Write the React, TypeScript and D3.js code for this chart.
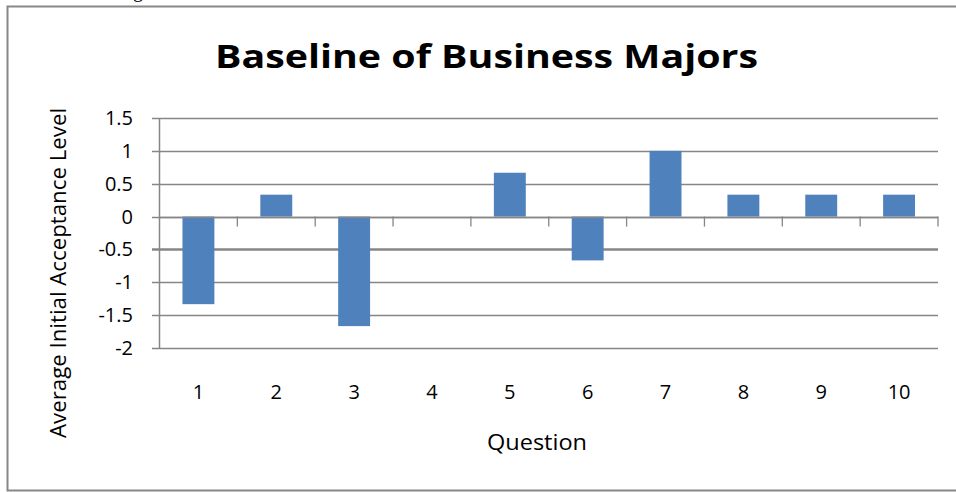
import React from "react";
import * as d3 from "d3";

const categories = ["1", "2", "3", "4", "5", "6", "7", "8", "9", "10"];
const values = [-1.333, 0.333, -1.667, 0, 0.667, -0.667, 1.0, 0.333, 0.333, 0.333];
const yTicks = [1.5, 1, 0.5, 0, -0.5, -1, -1.5, -2];
const title = "Baseline of Business Majors";
const xTitle = "Question";
const yTitle = "Average Initial Acceptance Level";

const W = 956;
const H = 492;
const left = 159.5;
const right = 938;
const top = 118;
const bottom = 348;
const FONT = "'Open Sans', 'Liberation Sans', sans-serif";
const GRID = "#868686";

export default function App() {
  const x = d3.scaleBand<string>().domain(categories).range([left, right]).paddingInner(0.59).paddingOuter(0.295);
  const xb = d3.scaleBand<string>().domain(categories).range([left, right]);
  const y = d3.scaleLinear().domain([-2, 1.5]).range([bottom, top]);
  const fmt = (v: number) => (v === 0 ? "0" : String(v));

  return (
    <svg width={W} height={H} style={{ position: "absolute", left: 0, top: 0, background: "#fff" }}>
      <rect x={0} y={0} width={W} height={H} fill="#fff" />
      <text x={133} y={-3} fontFamily="'Liberation Serif', serif" fontSize={20} fill="#000">g</text>
      <rect x={7.5} y={6.5} width={W + 10} height={484} fill="none" stroke="#878787" strokeWidth={2} />
      <text
        x={(215 + 758) / 2}
        y={68}
        textAnchor="middle"
        fontFamily={FONT}
        fontWeight="bold"
        fontSize={33}
        textLength={543}
        lengthAdjust="spacingAndGlyphs"
        fill="#000"
      >
        {title}
      </text>
      {yTicks.map((t) => (
        <g key={t}>
          <line
            x1={152}
            x2={right}
            y1={Math.round(y(t)) + 0.5}
            y2={Math.round(y(t)) + 0.5}
            stroke={GRID}
            strokeWidth={t === -0.5 ? 2.4 : 1.3}
          />
          <text x={133} y={y(t) + 7} textAnchor="end" fontFamily={FONT} fontSize={20} fill="#000">
            {fmt(t)}
          </text>
        </g>
      ))}
      <line x1={left} x2={left} y1={top} y2={bottom} stroke={GRID} strokeWidth={1.5} />
      {values.map((v, i) => {
        const c = categories[i];
        const y0 = y(0);
        const yv = y(v);
        return (
          <rect
            key={c}
            x={x(c)}
            y={Math.min(y0, yv)}
            width={x.bandwidth()}
            height={Math.abs(yv - y0)}
            fill="#4F81BD"
          />
        );
      })}
      <line x1={left} x2={right} y1={Math.round(y(0)) + 0.5} y2={Math.round(y(0)) + 0.5} stroke={GRID} strokeWidth={1.5} />
      {categories.map((c) => (
        <line
          key={"t" + c}
          x1={(xb(c) as number) + xb.bandwidth()}
          x2={(xb(c) as number) + xb.bandwidth()}
          y1={y(0)}
          y2={y(0) + 10}
          stroke={GRID}
          strokeWidth={1.3}
        />
      ))}
      {categories.map((c) => (
        <text
          key={"l" + c}
          x={(xb(c) as number) + xb.bandwidth() / 2}
          y={399}
          textAnchor="middle"
          fontFamily={FONT}
          fontSize={20}
          fill="#000"
        >
          {c}
        </text>
      ))}
      <text x={537} y={450} textAnchor="middle" fontFamily={FONT} fontSize={21} textLength={100} lengthAdjust="spacingAndGlyphs" fill="#000">
        {xTitle}
      </text>
      <text
        transform={`translate(66, 273) rotate(-90)`}
        textAnchor="middle"
        fontFamily={FONT}
        fontSize={21}
        textLength={330}
        lengthAdjust="spacingAndGlyphs"
        fill="#000"
      >
        {yTitle}
      </text>
    </svg>
  );
}
